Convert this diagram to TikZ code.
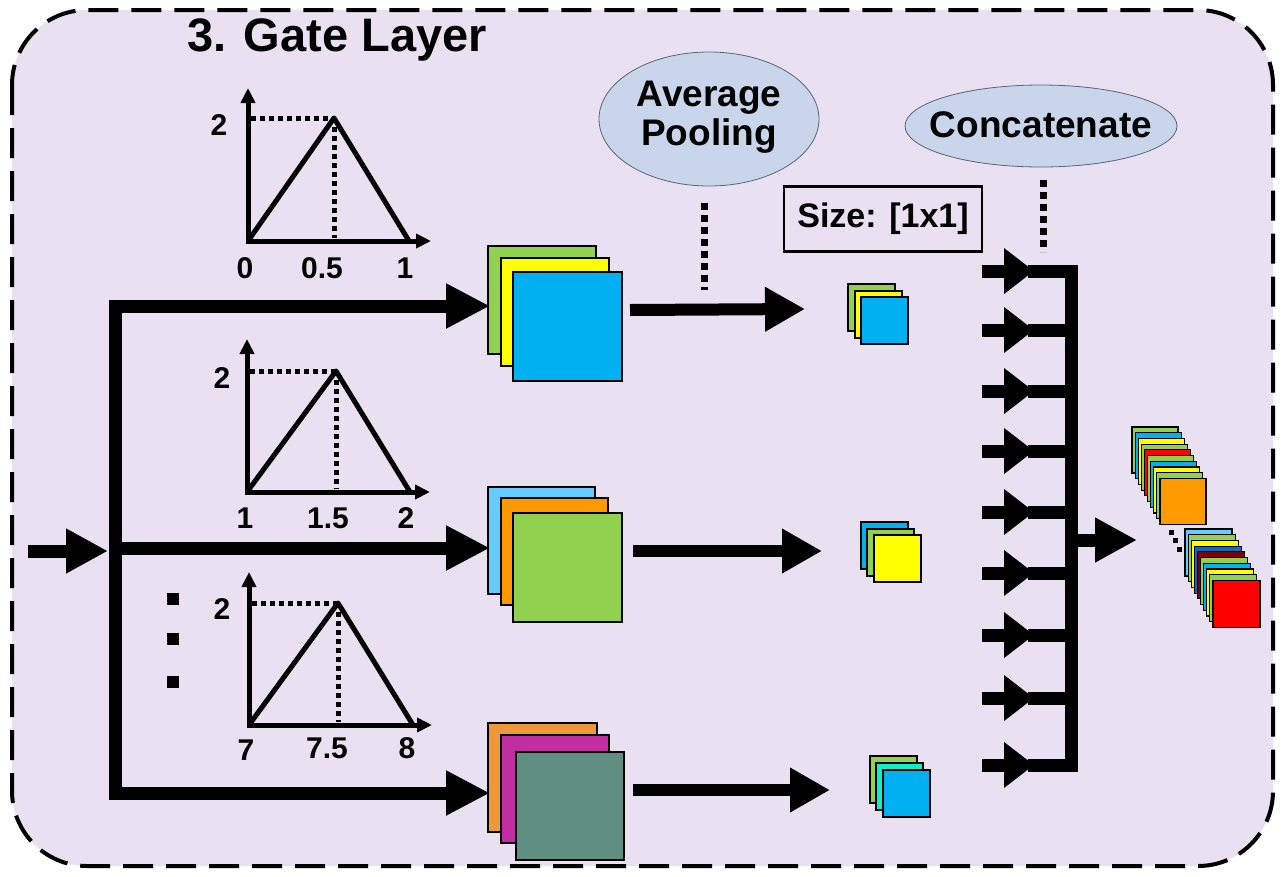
\documentclass[tikz,border=0pt]{standalone}
\usepackage{fontspec}
\setmainfont{Liberation Sans}
\usetikzlibrary{arrows.meta,shapes.geometric}
\definecolor{bg}{RGB}{233,225,241}
\definecolor{ellfill}{RGB}{200,213,234}
\definecolor{ellline}{RGB}{90,100,120}
\definecolor{cgreen}{HTML}{92D050}
\definecolor{cyellow}{HTML}{FFFF00}
\definecolor{cblue}{HTML}{00B0F0}
\definecolor{clblue}{HTML}{66CCFF}
\definecolor{corange}{HTML}{FF9900}
\definecolor{corange2}{HTML}{EE983A}
\definecolor{cmagenta}{HTML}{C02EA2}
\definecolor{cteal}{HTML}{5F8F80}
\definecolor{caqua}{HTML}{10F0C8}
\definecolor{cdblue}{HTML}{0070C0}
\definecolor{cdred}{HTML}{800000}
\definecolor{cred}{HTML}{FF0000}
\begin{document}
\begin{tikzpicture}[x=1pt,y=-1pt,
  fm/.style={draw=black, line width=1.5pt, minimum size=#1, inner sep=0pt, outer sep=0pt, anchor=north west},
  sfm/.style={draw=black, line width=1.2pt, minimum size=#1, inner sep=0pt, outer sep=0pt, anchor=north west},
  bus/.style={line width=13pt, line join=miter, line cap=butt},
  bigtip/.style={-{Triangle[length=42pt,width=42pt]}},
  midtip/.style={-{Triangle[length=40pt,width=42pt]}},
  cattip/.style={-{Triangle[length=30pt,width=44pt]}},
  axisline/.style={line width=5pt, line join=miter, {Triangle[length=15pt,width=14pt]}-{Triangle[length=15pt,width=14pt]}},
  triline/.style={line width=5pt, line join=round},
  dotl/.style={line width=5pt, dash pattern=on 5pt off 4pt},
  vdots/.style={line width=7pt, dash pattern=on 7pt off 5pt},
  xlbl/.style={font=\fontsize{30}{32}\selectfont\bfseries, inner sep=0pt},
  ylbl/.style={font=\fontsize{30}{32}\selectfont\bfseries, inner sep=0pt},
  elltxt/.style={font=\fontsize{37}{39}\selectfont\bfseries, align=center, inner sep=0pt},
  ellshape/.style={fill=ellfill, draw=ellline, line width=0.8pt},
  dotsq/.style={fill=black, minimum size=#1, inner sep=0pt, outer sep=0pt}
]
\useasboundingbox (0,0) rectangle (1284,876);
\fill[white] (0,0) rectangle (1284,876);
% background panel
\draw[fill=bg, line width=4pt, dash pattern=on 30pt off 13pt, rounded corners=75pt] (12,10) rectangle (1273,866);

% title
\node[font=\fontsize{47}{50}\selectfont\bfseries, inner sep=0pt] (title) at (337,40) {3. Gate Layer};

% ---------- graphs ----------
\begin{scope}[shift={(248,241)}]
  \draw[axisline] (0,-153) -- (0,0) -- (183,0);
  \draw[dotl] (3,-123) -- (86,-123);
  \draw[dotl] (86,-123) -- (86,-3);
  \draw[triline] (0,0) -- (86,-123) -- (161,0);
\end{scope}
\node[ylbl] (g1y) at (219,125) {2};
\node[xlbl] (g1a) at (245,268) {0};
\node[xlbl] (g1b) at (322,268) {0.5};
\node[xlbl] (g1c) at (405,268) {1};

\begin{scope}[shift={(247,492)}]
  \draw[axisline] (0,-153) -- (0,0) -- (183,0);
  \draw[dotl] (3,-121) -- (89,-121);
  \draw[dotl] (89,-121) -- (89,-3);
  \draw[triline] (0,0) -- (89,-121) -- (163,0);
\end{scope}
\node[ylbl] (g2y) at (222,378) {2};
\node[xlbl] (g2a) at (245,518) {1};
\node[xlbl] (g2b) at (328,518) {1.5};
\node[xlbl] (g2c) at (406,518) {2};

\begin{scope}[shift={(249,725)}]
  \draw[axisline] (0,-153) -- (0,0) -- (183,0);
  \draw[dotl] (3,-122) -- (89,-122);
  \draw[dotl] (89,-122) -- (89,-3);
  \draw[triline] (0,0) -- (89,-122) -- (164,0);
\end{scope}
\node[ylbl] (g3y) at (222,609) {2};
\node[xlbl] (g3a) at (246,750) {7};
\node[xlbl] (g3b) at (327,748) {7.5};
\node[xlbl] (g3c) at (407,748) {8};

% vertical ellipsis
\node[dotsq=12pt] (d1) at (173,599) {};
\node[dotsq=12pt] (d2) at (173,639) {};
\node[dotsq=12pt] (d3) at (173,682) {};

% ---------- feature map stacks ----------
\node[fm=108pt, fill=cgreen]  (s1a) at (488,246) {};
\node[fm=108pt, fill=cyellow] (s1b) at (501,258) {};
\node[fm=109pt, fill=cblue]   (s1c) at (513,272) {};

\node[fm=107pt, fill=clblue]  (s2a) at (488,487) {};
\node[fm=107pt, fill=corange] (s2b) at (501,498) {};
\node[fm=109pt, fill=cgreen]  (s2c) at (513,513) {};

\node[fm=109pt, fill=corange2] (s3a) at (488,723) {};
\node[fm=108pt, fill=cmagenta] (s3b) at (501,735) {};
\node[fm=108pt, fill=cteal]    (s3c) at (516,752) {};

% small pooled stacks
\node[sfm=47pt, fill=cgreen]  (p1a) at (848,284) {};
\node[sfm=47pt, fill=cyellow] (p1b) at (855,291) {};
\node[sfm=47pt, fill=cblue]   (p1c) at (861,297) {};

\node[sfm=47pt, fill=cblue]   (p2a) at (861,522) {};
\node[sfm=47pt, fill=cgreen]  (p2b) at (867,529) {};
\node[sfm=47pt, fill=cyellow] (p2c) at (874,535) {};

\node[sfm=47pt, fill=cgreen]  (p3a) at (870,756) {};
\node[sfm=47pt, fill=caqua]   (p3b) at (876,763) {};
\node[sfm=47pt, fill=cblue]   (p3c) at (883,770) {};

% concatenated stacks
\foreach \c [count=\i from 0] in {cgreen,cblue,cyellow,cgreen,cred,cgreen,cblue,cyellow,cgreen,corange}
  \node[sfm=46pt, fill=\c] (ca\i) at ({1132+\i*3.1},{427+\i*5.7}) {};
\foreach \c [count=\i from 0] in {clblue,cgreen,cyellow,cdblue,cdred,cgreen,cblue,cyellow,cgreen,cred}
  \node[sfm=47pt, fill=\c] (cb\i) at ({1185+\i*3.1},{529+\i*5.7}) {};
\node[dotsq=5pt] (e1) at (1171,532) {};
\node[dotsq=5pt] (e2) at (1175,540) {};
\node[dotsq=5pt] (e3) at (1179,549) {};

% ---------- labels ----------
\draw[ellshape] (709,119) ellipse [x radius=110, y radius=67];
\node[elltxt] (ap) at (709,117) {Average\\Pooling};
\draw[ellshape] (1041,126) ellipse [x radius=136, y radius=41];
\node[elltxt] (cc) at (1041,125) {Concatenate};
\node[draw=black, line width=2.5pt, minimum width=198pt, minimum height=65pt, inner sep=0pt, font=\fontsize{34}{36}\selectfont\bfseries] (sz) at (883,219) {Size: [1x1]};

% ---------- connectors ----------
\coordinate (inA) at (28,551);
\coordinate (inB) at (108,551);
\coordinate (jt) at (115,306);
\coordinate (jb) at (115,793);
\coordinate (b1) at (490,306);
\coordinate (b2s) at (115,548);
\coordinate (b2) at (490,548);
\coordinate (b3) at (490,793);
\draw[bus, bigtip] (inA) -- (inB);
\draw[bus, {Triangle[length=44pt,width=42pt]}-{Triangle[length=44pt,width=42pt]}] (b1) -- (jt) -- (jb) -- (b3);
\draw[bus, -{Triangle[length=44pt,width=42pt]}] (b2s) -- (b2);

\coordinate (o1s) at (630,310);
\coordinate (o1e) at (805,309);
\coordinate (o2s) at (633,551);
\coordinate (o2e) at (822,551);
\coordinate (o3s) at (633,790);
\coordinate (o3e) at (830,790);
\draw[bus, line width=12pt, midtip] (o1s) -- (o1e);
\draw[bus, line width=12pt, midtip] (o2s) -- (o2e);
\draw[bus, line width=12pt, midtip] (o3s) -- (o3e);

\coordinate (apd) at (704,290);
\draw[vdots] (704,203) -- (apd);
\coordinate (ccd) at (1043,252);
\draw[vdots] (1043,180) -- (ccd);

% concatenate bus
\coordinate (ct) at (1071,271);
\coordinate (cbm) at (1071,765);
\draw[bus] (1030,271) -- (ct) -- (cbm) -- (1030,765);
\foreach \y [count=\k] in {271,330,391,451,512,573,635,698,765} {
  \coordinate (ci\k) at (982,\y);
  \coordinate (ch\k) at (1034,\y);
  \draw[bus, cattip] (ci\k) -- (ch\k);
  \draw[bus] (1028,\y) -- (1071,\y);
}
\coordinate (outs) at (1071,540);
\coordinate (oute) at (1137,540);
\draw[bus, bigtip] (outs) -- (oute);
\end{tikzpicture}
\end{document}
